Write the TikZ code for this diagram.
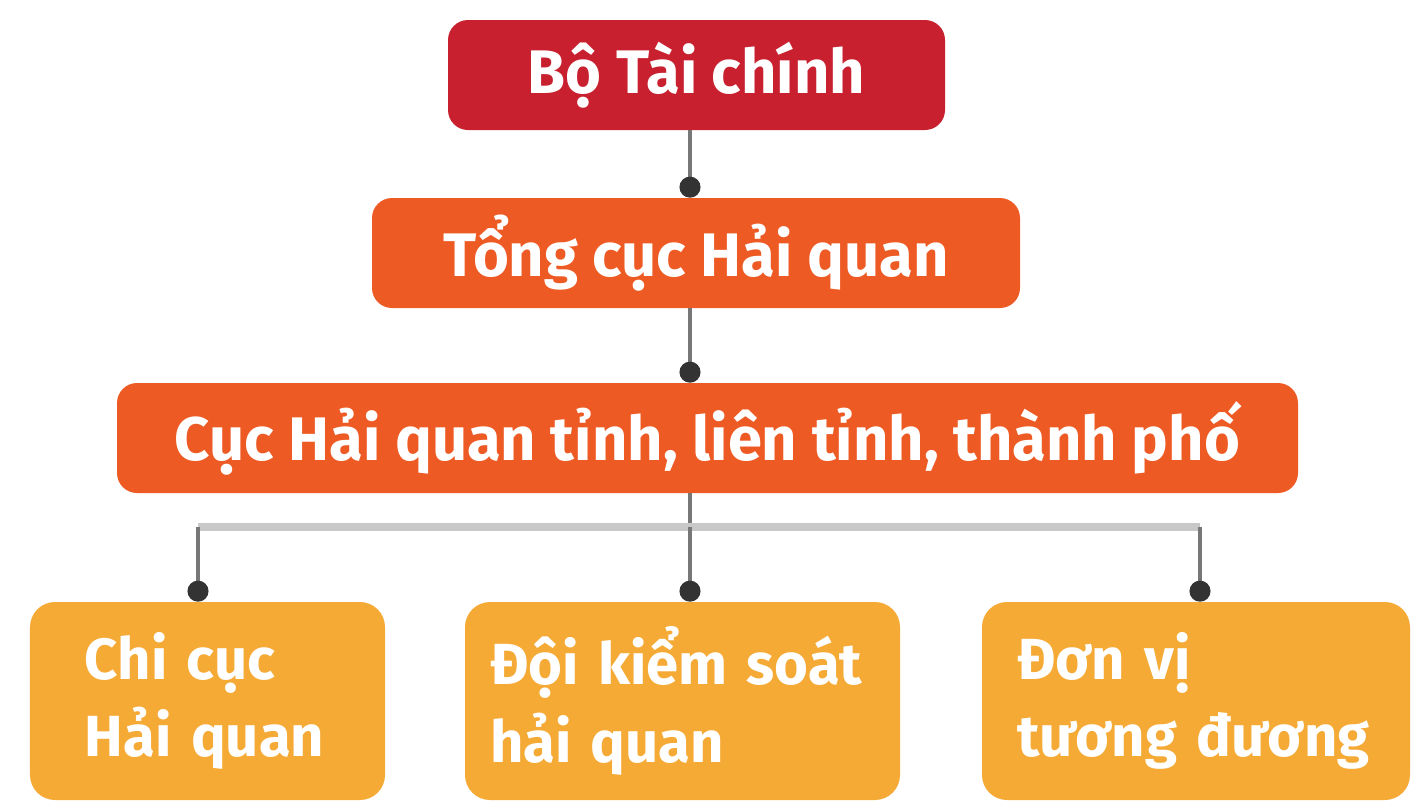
\documentclass[tikz,border=0pt]{standalone}
\usepackage{fontspec}
\setmainfont{Fira Sans}
\usetikzlibrary{arrows.meta, positioning, calc}
\definecolor{mRed}{HTML}{C8202F}
\definecolor{mOrange}{HTML}{EE5A24}
\definecolor{mAmber}{HTML}{F5AA36}
\definecolor{mLine}{HTML}{777777}
\definecolor{mBus}{HTML}{C8C8C8}
\definecolor{mTip}{HTML}{333333}

\tikzset{
  orgbox/.style={rounded corners=0.4cm, minimum height=2.2cm, text=white,
    font=\fontsize{35}{42}\selectfont\bfseries, inner sep=0pt},
  subbox/.style={orgbox, rounded corners=0.5cm, minimum height=3.96cm, align=left,
    font=\fontsize{33}{44}\selectfont\bfseries, fill=mAmber},
  conn/.style={line width=2.8pt, mLine, -{Circle[length=0.42cm, mTip]}}
}

\begin{document}
\begin{tikzpicture}
    \useasboundingbox (0,0) rectangle (28.28,-16.04);
    \node[orgbox, fill=mRed, minimum width=9.94cm] (bo) at (13.93,-1.5) {Bộ Tài chính};
    \node[orgbox, fill=mOrange, minimum width=12.96cm] (tong) at (13.92,-5.06) {Tổng cục Hải quan};
    \node[orgbox, fill=mOrange, minimum width=23.62cm] (cuc) at (14.15,-8.76) {Cục Hải quan tỉnh, liên tỉnh, thành phố};
    \foreach \nm/\x/\p/\tw/\txt in {chi/4.15/1.1/4.9/{Chi cục\\Hải quan},
                                    doi/13.65/0.5/7.7/{Đội kiểm soát\\hải quan},
                                    don/23.92/0.7/7.16/{Đơn vị\\tương đương}} {
      \node[subbox, inner xsep=\p cm, text width=\tw cm] (\nm) at (\x,-14.02) {\txt};
    }
    \coordinate (bus) at (13.8,-10.54);
    \draw[conn] (bo.south -| 13.8,0) -- (tong.north -| 13.8,0);
    \draw[conn] (tong.south -| 13.8,0) -- (cuc.north -| 13.8,0);
    \draw[line width=2.8pt, mLine] (cuc.south -| bus) -- (bus);
    \draw[line width=4pt, mBus] (bus -| 3.96,0) -- (bus -| 24.0,0);
    \foreach \nm/\x in {chi/3.96, doi/13.8, don/24.0}
      \draw[conn] (bus -| \x,0) -- (\nm.north -| \x,0);
\end{tikzpicture}
\end{document}
